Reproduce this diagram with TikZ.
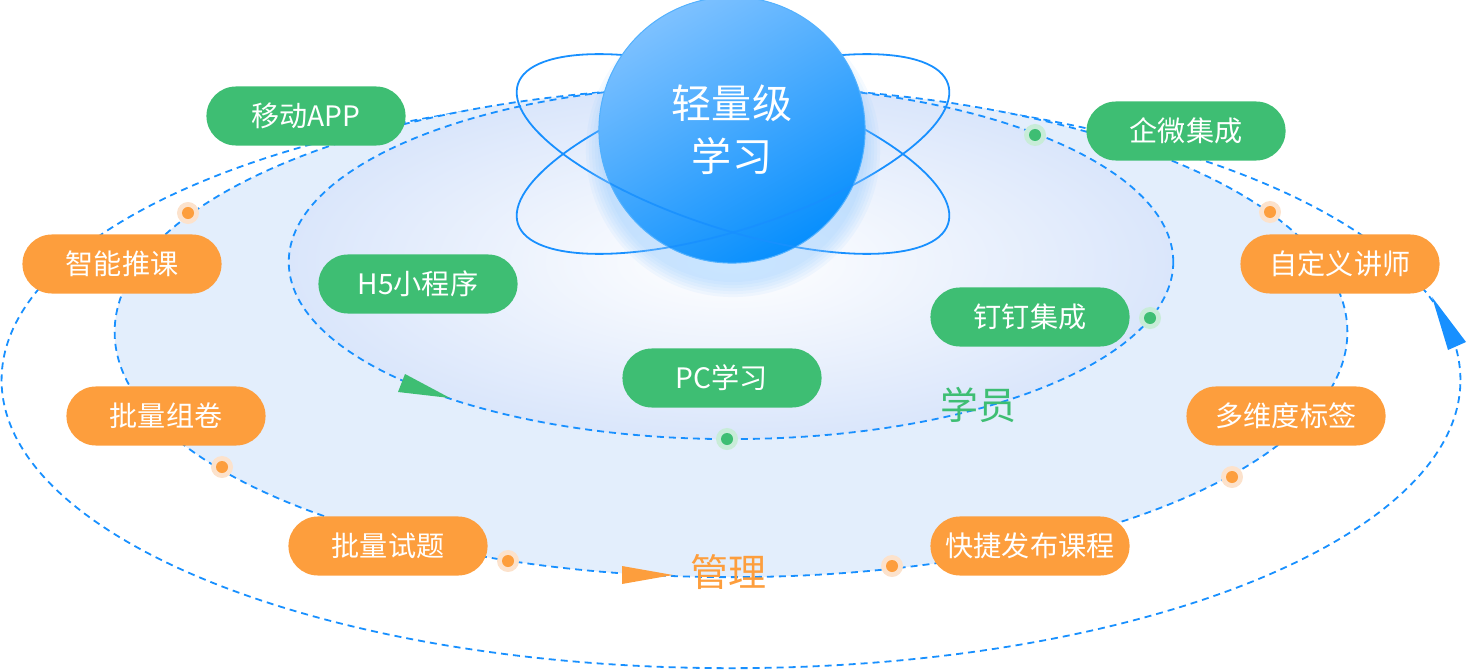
\documentclass[tikz,border=0pt]{standalone}
\usepackage{fontspec}
\setmainfont{Noto Sans CJK SC}
\definecolor{lineblue}{RGB}{24,144,255}
\definecolor{pillgreen}{RGB}{62,190,115}
\definecolor{pillorange}{RGB}{253,158,61}
\definecolor{ringfill}{RGB}{227,238,252}
\definecolor{coreedge}{RGB}{218,230,251}
\definecolor{balllight}{RGB}{125,193,255}
\definecolor{balldark}{RGB}{8,143,253}
\definecolor{ballglow}{RGB}{140,200,255}
\definecolor{greenhalo}{RGB}{200,236,216}
\definecolor{orangehalo}{RGB}{252,226,204}

\begin{document}
\begin{tikzpicture}[x=0.01cm,y=-0.01cm,
    ring/.style={lineblue,line width=0.018cm,dash pattern=on 0.07cm off 0.05cm},
    orbit/.style={lineblue,line width=0.018cm},
    pill/.style={rounded corners=0.295cm,minimum width=1.99cm,minimum height=0.59cm,inner sep=0pt,text=white,font=\fontsize{8pt}{9pt}\selectfont},
    green pill/.style={pill,fill=pillgreen},
    orange pill/.style={pill,fill=pillorange}]
    \useasboundingbox (0,0) rectangle (1467,670);
    \draw[ring] (731,380) ellipse [x radius=7.29cm, y radius=2.88cm];
    \fill[ringfill] (731,332) ellipse [x radius=6.16cm, y radius=2.45cm];
    \draw[ring] (731,332) ellipse [x radius=6.16cm, y radius=2.45cm];
    \shade[inner color=white, outer color=coreedge] (731,262) ellipse [x radius=4.42cm, y radius=1.77cm];
    \draw[ring] (731,262) ellipse [x radius=4.42cm, y radius=1.77cm];
    \draw[orbit,rotate around={-18:(733,154)}] (733,154) ellipse [x radius=2.26cm, y radius=0.75cm];
    \draw[orbit,rotate around={18:(733,154)}] (733,154) ellipse [x radius=2.26cm, y radius=0.75cm];
    \foreach \r in {1.32,1.35,...,1.47}
        \fill[ballglow,opacity=0.09] (733,150) circle (\r cm);
    \node[circle,minimum size=2.66cm,inner sep=0pt,draw=balldark!70,line width=0.01cm,
        top color=balllight,bottom color=balldark,shading angle=30,
        text=white,align=center,font=\fontsize{11.4pt}{15pt}\selectfont] (ball) at (732,130) {轻量级\\学习};
    \begin{scope}
        \clip (ball.center) circle (1.33cm);
        \clip (550,152) rectangle (920,300);
        \draw[orbit,opacity=0.85,rotate around={-18:(733,154)}] (733,154) ellipse [x radius=2.26cm, y radius=0.75cm];
        \draw[orbit,opacity=0.85,rotate around={18:(733,154)}] (733,154) ellipse [x radius=2.26cm, y radius=0.75cm];
    \end{scope}
    \foreach \p in {(188,213),(222,467),(508,561),(892,566),(1232,477),(1270,212)}{
        \fill[orangehalo] \p circle (0.11cm);
        \fill[pillorange] \p circle (0.06cm);
    }
    \foreach \p in {(1035,135),(1150,318),(727,439)}{
        \fill[greenhalo] \p circle (0.11cm);
        \fill[pillgreen] \p circle (0.06cm);
    }
    \fill[pillgreen] (405,374)--(398,392)--(450,398)--cycle;
    \fill[pillorange] (622,566)--(622,584)--(673,575)--cycle;
    \fill[lineblue] (1432,297)--(1448,350)--(1466,342)--cycle;
    \node[green pill] (app) at (306,116) {移动APP};
    \node[green pill] (wecom) at (1186,131) {企微集成};
    \node[green pill] (hfive) at (418,284) {H5小程序};
    \node[green pill] (dingtalk) at (1030,317) {钉钉集成};
    \node[green pill] (pc) at (722,378) {PC学习};
    \node[orange pill] (recommend) at (122,264) {智能推课};
    \node[orange pill] (lecturer) at (1340,264) {自定义讲师};
    \node[orange pill] (papers) at (166,416) {批量组卷};
    \node[orange pill] (tags) at (1286,416) {多维度标签};
    \node[orange pill] (questions) at (388,546) {批量试题};
    \node[orange pill] (publish) at (1030,546) {快捷发布课程};
    \node[text=pillgreen,font=\fontsize{10.8pt}{12pt}\selectfont] (learner) at (978,405) {学员};
    \node[text=pillorange,font=\fontsize{10.8pt}{12pt}\selectfont] (admin) at (728,572) {管理};
\end{tikzpicture}
\end{document}
